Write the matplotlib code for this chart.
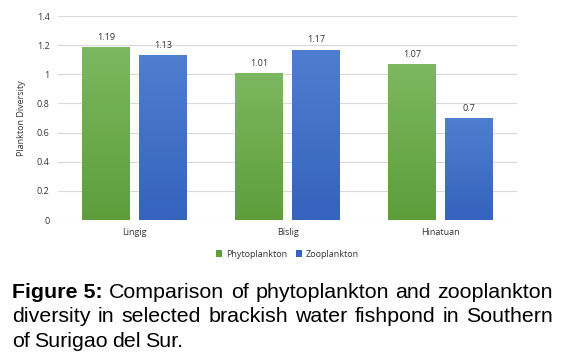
import numpy as np
import matplotlib
matplotlib.use('Agg')
import matplotlib.pyplot as plt
from matplotlib.colors import LinearSegmentedColormap

# Data
sites = ['Lingig', 'Bislig', 'Hinatuan']
phyto = [1.19, 1.01, 1.07]
zoo = [1.13, 1.17, 0.70]
y_ticks = [0, 0.2, 0.4, 0.6, 0.8, 1, 1.2, 1.4]
y_tick_labels = ['0', '0.2', '0.4', '0.6', '0.8', '1', '1.2', '1.4']

green_top, green_bot = '#7cb860', '#5e9e3a'
blue_top, blue_bot = '#4f7ed0', '#3563bd'

fig = plt.figure(figsize=(5.65, 3.6), dpi=100)
ax = fig.add_axes([58 / 565, 140 / 360, 459 / 565, 204 / 360])

x = np.arange(len(sites))
w = 0.31
off = 0.187
bars1 = ax.bar(x - off, phyto, w, color=green_bot, zorder=3, label='Phytoplankton')
bars2 = ax.bar(x + off, zoo, w, color=blue_bot, zorder=3, label='Zooplankton')

# vertical gradient fill on every bar
def gradient(bars, top, bot):
    cmap = LinearSegmentedColormap.from_list('g', [bot, top])
    grad = np.linspace(0, 1, 100).reshape(-1, 1)
    for b in bars:
        x0, y0 = b.get_x(), b.get_y()
        im = ax.imshow(grad, cmap=cmap, aspect='auto', origin='lower',
                       extent=[x0, x0 + b.get_width(), y0, y0 + b.get_height()],
                       zorder=3.5)
        im.set_clip_path(b)

gradient(bars1, green_top, green_bot)
gradient(bars2, blue_top, blue_bot)

for bars, vals in ((bars1, phyto), (bars2, zoo)):
    for b, v in zip(bars, vals):
        ax.text(b.get_x() + b.get_width() / 2, v + 0.035, f'{v:g}',
                ha='center', va='bottom', fontsize=6.5, color='#333333',
                family='Open Sans')

ax.set_xlim(-0.5, 2.5)
ax.set_ylim(0, 1.4)
ax.set_yticks(y_ticks)
ax.set_yticklabels(y_tick_labels)
ax.set_xticks(x)
ax.set_xticklabels(sites)
ax.tick_params(length=0, labelsize=6.5, colors='#333333', pad=6)
for lab in ax.get_xticklabels() + ax.get_yticklabels():
    lab.set_family('Open Sans')
ax.grid(axis='y', color='#d9d9d9', linewidth=0.8, zorder=0)
for s in ax.spines.values():
    s.set_visible(False)
ax.set_ylabel('Plankton Diversity', fontsize=6.5, color='#333333',
              family='Open Sans', labelpad=8)

leg = ax.legend(loc='upper center', bbox_to_anchor=(0.5, -0.105), ncol=2,
                frameon=False, fontsize=6.5, handlelength=0.7, handleheight=0.7,
                columnspacing=1.0, handletextpad=0.4)
for t in leg.get_texts():
    t.set_family('Open Sans')
    t.set_color('#333333')

# caption, justified across the width
lines = [
    [('Figure 5:', 'bold'), ('Comparison', 'normal'), ('of', 'normal'), ('phytoplankton', 'normal'),
     ('and', 'normal'), ('zooplankton', 'normal')],
    [(wd, 'normal') for wd in 'diversity in selected brackish water fishpond in Southern'.split()],
    [(wd, 'normal') for wd in 'of Surigao del Sur.'.split()],
]
left_px, right_px = 12, 553
baselines = [298, 322, 347]
fs = 15.4
fig.canvas.draw()
renderer = fig.canvas.get_renderer()
for i, (words, yb) in enumerate(zip(lines, baselines)):
    texts = []
    for wd, wt in words:
        t = fig.text(0, 1 - yb / 360, wd, fontsize=fs, fontweight=wt,
                     family='Liberation Sans', va='baseline', ha='left')
        texts.append(t)
    widths = [t.get_window_extent(renderer).width for t in texts]
    if i < 2:
        gap = (right_px - left_px - sum(widths)) / (len(texts) - 1)
    else:
        gap = fs * 0.28
    xp = left_px
    for t, wdt in zip(texts, widths):
        t.set_x(xp / 565)
        xp += wdt + gap

fig.savefig('out.png', dpi=100)
